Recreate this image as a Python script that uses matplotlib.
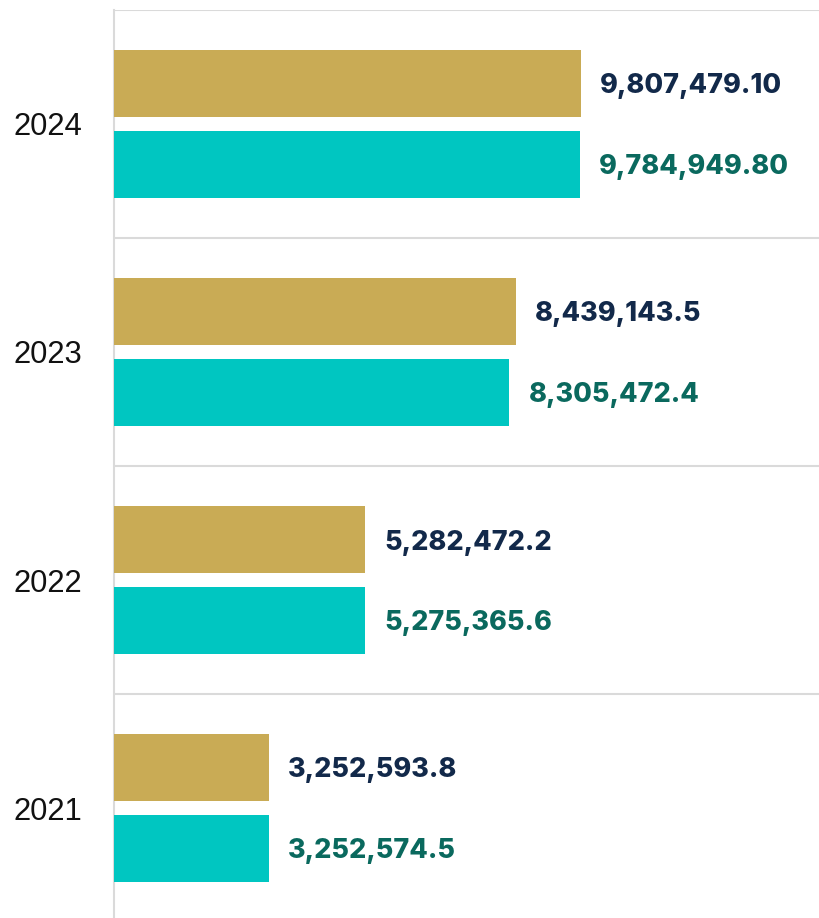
import matplotlib
matplotlib.use("Agg")
import matplotlib.pyplot as plt
import numpy as np

years = ["2024", "2023", "2022", "2021"]
series_a = [9807479.10, 8439143.5, 5282472.2, 3252593.8]
series_b = [9784949.80, 8305472.4, 5275365.6, 3252574.5]
labels_a = ["9,807,479.10", "8,439,143.5", "5,282,472.2", "3,252,593.8"]
labels_b = ["9,784,949.80", "8,305,472.4", "5,275,365.6", "3,252,574.5"]

gold = "#C9AB55"
teal = "#00C6C1"
gold_txt = "#12294A"
teal_txt = "#0A695E"

W, H = 820, 918
fig = plt.figure(figsize=(W / 100, H / 100), dpi=100)
left = 114 / W
top_px, bot_px = 10, 922
ax = fig.add_axes([left, (H - bot_px) / H, 1 - left, (bot_px - top_px) / H])

y = np.arange(len(years))
bh = 67 / 228
off = 40.5 / 228
ax.barh(y - off, series_a, height=bh, color=gold, zorder=3)
ax.barh(y + off, series_b, height=bh, color=teal, zorder=3)

ax.set_ylim(len(years) - 0.5, -0.5)
ax.set_xlim(0, 14.83e6)

for i in range(len(years)):
    ax.annotate(labels_a[i], (series_a[i], y[i] - off), xytext=(19, -3), textcoords="offset pixels",
                va="center", ha="left", fontsize=19.4, fontweight=800, color=gold_txt, family="Inter")
    ax.annotate(labels_b[i], (series_b[i], y[i] + off), xytext=(19, -3), textcoords="offset pixels",
                va="center", ha="left", fontsize=19.4, fontweight=800, color=teal_txt, family="Inter")

# group separators
for b in np.arange(-0.5, len(years) - 0.5, 1.0):
    ax.axhline(b, color="#DADADA", lw=1.5, zorder=1)

ax.set_yticks(y)
ax.set_yticklabels(years, fontsize=22.3, family="Liberation Sans", color="#111111")
ax.tick_params(axis="y", length=0, pad=23)
ax.set_xticks([])
for s in ["top", "right", "bottom"]:
    ax.spines[s].set_visible(False)
ax.spines["left"].set_color("#DADADA")
ax.spines["left"].set_linewidth(1.5)

fig.savefig("out.png", dpi=100)
